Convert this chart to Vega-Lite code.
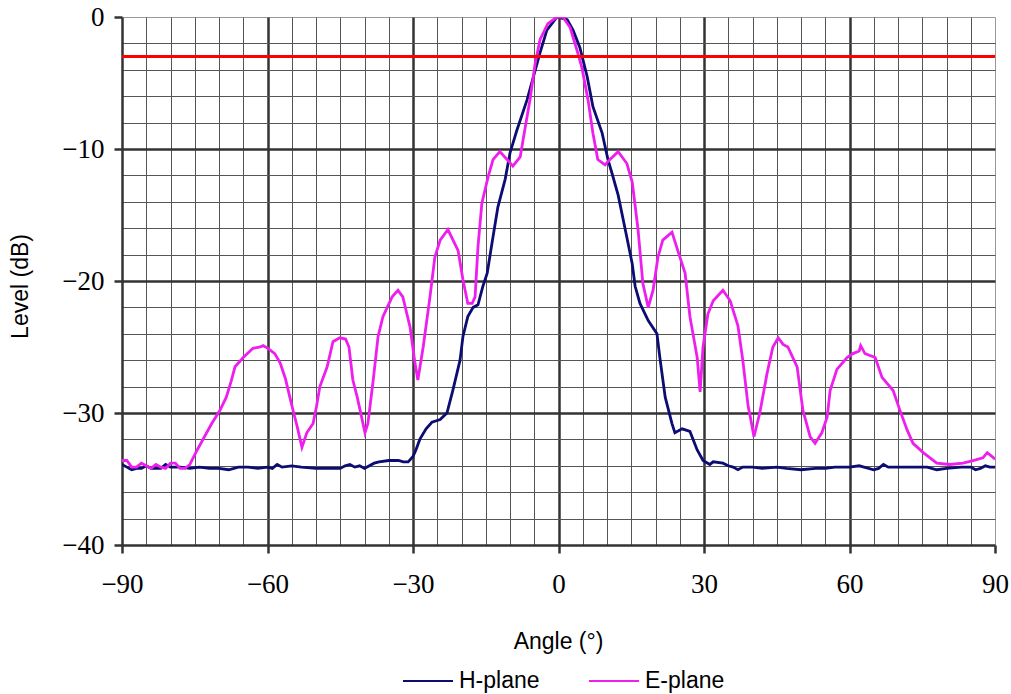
{
  "$schema": "https://vega.github.io/schema/vega-lite/v6.json",
  "width": 873,
  "height": 528,
  "autosize": {"type": "none"},
  "padding": {"left": 122, "top": 17, "right": 16, "bottom": 149},
  "background": "white",
  "config": {
    "view": {"stroke": "#999", "strokeWidth": 1},
    "axis": {
      "domainColor": "#333",
      "domainWidth": 2.5,
      "tickColor": "#333",
      "tickWidth": 2.5,
      "tickSize": 8,
      "labelFont": "Liberation Serif",
      "labelFontSize": 27,
      "labelColor": "#000",
      "titleFont": "Liberation Sans",
      "titleFontSize": 23,
      "titleFontWeight": "normal",
      "titleColor": "#000",
      "labelOverlap": false,
      "labelFlush": false
    },
    "legend": {
      "labelFont": "Liberation Sans",
      "labelFontSize": 23,
      "labelColor": "#000"
    }
  },
  "encoding": {
    "y": {
      "field": "level",
      "type": "quantitative",
      "scale": {"domain": [-40, 0], "nice": false, "zero": false},
      "axis": {
        "title": "Level (dB)",
        "values": [-40, -38, -36, -34, -32, -30, -28, -26, -24, -22, -20, -18, -16, -14, -12, -10, -8, -6, -4, -2, 0],
        "grid": true,
        "gridColor": {"condition": {"test": "datum.value % 10 === 0 && datum.value < 0 && datum.value > -40", "value": "#333"}, "value": "#555"},
        "gridWidth": {"condition": {"test": "datum.value % 10 === 0 && datum.value < 0 && datum.value > -40", "value": 2.5}, "value": 1},
        "gridOpacity": {"condition": {"test": "datum.value === 0 || datum.value === -40", "value": 0}, "value": 1},
        "tickOpacity": {"condition": {"test": "datum.value % 10 === 0", "value": 1}, "value": 0},
        "labelExpr": "datum.value % 10 === 0 ? datum.label : ''",
        "labelPadding": 10,
        "titleX": -102,
        "titleY": 269,
        "titleAngle": -90,
        "titleBaseline": "middle",
        "titleAlign": "center"
      }
    }
  },
  "layer": [
    {
      "data": {
        "values": [
          {"angle": -90, "level": -33.9, "series": "H-plane"},
          {"angle": -89, "level": -34.1, "series": "H-plane"},
          {"angle": -88, "level": -34.3, "series": "H-plane"},
          {"angle": -87, "level": -34.2, "series": "H-plane"},
          {"angle": -86, "level": -34.2, "series": "H-plane"},
          {"angle": -85, "level": -34.0, "series": "H-plane"},
          {"angle": -84, "level": -34.2, "series": "H-plane"},
          {"angle": -82, "level": -34.2, "series": "H-plane"},
          {"angle": -81, "level": -33.9, "series": "H-plane"},
          {"angle": -80, "level": -34.1, "series": "H-plane"},
          {"angle": -78, "level": -34.1, "series": "H-plane"},
          {"angle": -76, "level": -34.2, "series": "H-plane"},
          {"angle": -74, "level": -34.1, "series": "H-plane"},
          {"angle": -72, "level": -34.2, "series": "H-plane"},
          {"angle": -70, "level": -34.2, "series": "H-plane"},
          {"angle": -68, "level": -34.3, "series": "H-plane"},
          {"angle": -66, "level": -34.1, "series": "H-plane"},
          {"angle": -64, "level": -34.1, "series": "H-plane"},
          {"angle": -62, "level": -34.2, "series": "H-plane"},
          {"angle": -60, "level": -34.1, "series": "H-plane"},
          {"angle": -59, "level": -34.2, "series": "H-plane"},
          {"angle": -58, "level": -33.9, "series": "H-plane"},
          {"angle": -57, "level": -34.1, "series": "H-plane"},
          {"angle": -55, "level": -34.0, "series": "H-plane"},
          {"angle": -53, "level": -34.1, "series": "H-plane"},
          {"angle": -50, "level": -34.2, "series": "H-plane"},
          {"angle": -47, "level": -34.2, "series": "H-plane"},
          {"angle": -45, "level": -34.2, "series": "H-plane"},
          {"angle": -44, "level": -34.0, "series": "H-plane"},
          {"angle": -43, "level": -33.9, "series": "H-plane"},
          {"angle": -42, "level": -34.1, "series": "H-plane"},
          {"angle": -41, "level": -34.0, "series": "H-plane"},
          {"angle": -40, "level": -34.2, "series": "H-plane"},
          {"angle": -39, "level": -34.0, "series": "H-plane"},
          {"angle": -38, "level": -33.8, "series": "H-plane"},
          {"angle": -37, "level": -33.7, "series": "H-plane"},
          {"angle": -35, "level": -33.6, "series": "H-plane"},
          {"angle": -33, "level": -33.6, "series": "H-plane"},
          {"angle": -32, "level": -33.7, "series": "H-plane"},
          {"angle": -31, "level": -33.7, "series": "H-plane"},
          {"angle": -30, "level": -33.3, "series": "H-plane"},
          {"angle": -29.4, "level": -32.8, "series": "H-plane"},
          {"angle": -28.6, "level": -32.0, "series": "H-plane"},
          {"angle": -27.3, "level": -31.2, "series": "H-plane"},
          {"angle": -26.1, "level": -30.7, "series": "H-plane"},
          {"angle": -24.4, "level": -30.5, "series": "H-plane"},
          {"angle": -23.0, "level": -30.0, "series": "H-plane"},
          {"angle": -21.8, "level": -28.3, "series": "H-plane"},
          {"angle": -20.3, "level": -26.0, "series": "H-plane"},
          {"angle": -19.7, "level": -24.2, "series": "H-plane"},
          {"angle": -18.7, "level": -22.7, "series": "H-plane"},
          {"angle": -17.6, "level": -22.0, "series": "H-plane"},
          {"angle": -16.6, "level": -21.8, "series": "H-plane"},
          {"angle": -15.6, "level": -20.4, "series": "H-plane"},
          {"angle": -14.7, "level": -19.4, "series": "H-plane"},
          {"angle": -13.7, "level": -17.1, "series": "H-plane"},
          {"angle": -12.5, "level": -14.4, "series": "H-plane"},
          {"angle": -11.0, "level": -12.3, "series": "H-plane"},
          {"angle": -10.0, "level": -10.3, "series": "H-plane"},
          {"angle": -8.6, "level": -8.6, "series": "H-plane"},
          {"angle": -6.5, "level": -6.3, "series": "H-plane"},
          {"angle": -3.8, "level": -2.7, "series": "H-plane"},
          {"angle": -2.4, "level": -1.0, "series": "H-plane"},
          {"angle": -0.3, "level": 0, "series": "H-plane"},
          {"angle": 1.8, "level": -0.2, "series": "H-plane"},
          {"angle": 3.0, "level": -1.0, "series": "H-plane"},
          {"angle": 4.4, "level": -2.3, "series": "H-plane"},
          {"angle": 5.9, "level": -4.5, "series": "H-plane"},
          {"angle": 7.1, "level": -6.8, "series": "H-plane"},
          {"angle": 9.0, "level": -8.8, "series": "H-plane"},
          {"angle": 10.2, "level": -10.8, "series": "H-plane"},
          {"angle": 11.0, "level": -11.8, "series": "H-plane"},
          {"angle": 12.3, "level": -13.5, "series": "H-plane"},
          {"angle": 14.1, "level": -16.7, "series": "H-plane"},
          {"angle": 15.2, "level": -18.7, "series": "H-plane"},
          {"angle": 15.8, "level": -20.4, "series": "H-plane"},
          {"angle": 16.8, "level": -21.7, "series": "H-plane"},
          {"angle": 18.5, "level": -23.0, "series": "H-plane"},
          {"angle": 20.3, "level": -24.0, "series": "H-plane"},
          {"angle": 20.9, "level": -25.8, "series": "H-plane"},
          {"angle": 22.0, "level": -28.8, "series": "H-plane"},
          {"angle": 23.4, "level": -30.8, "series": "H-plane"},
          {"angle": 24.0, "level": -31.5, "series": "H-plane"},
          {"angle": 25.5, "level": -31.2, "series": "H-plane"},
          {"angle": 27.1, "level": -31.4, "series": "H-plane"},
          {"angle": 28.6, "level": -32.8, "series": "H-plane"},
          {"angle": 29.8, "level": -33.6, "series": "H-plane"},
          {"angle": 31.2, "level": -33.9, "series": "H-plane"},
          {"angle": 31.9, "level": -33.7, "series": "H-plane"},
          {"angle": 33.9, "level": -33.8, "series": "H-plane"},
          {"angle": 35, "level": -34.0, "series": "H-plane"},
          {"angle": 36, "level": -34.1, "series": "H-plane"},
          {"angle": 37, "level": -34.3, "series": "H-plane"},
          {"angle": 38, "level": -34.1, "series": "H-plane"},
          {"angle": 40, "level": -34.1, "series": "H-plane"},
          {"angle": 42, "level": -34.2, "series": "H-plane"},
          {"angle": 45, "level": -34.1, "series": "H-plane"},
          {"angle": 47, "level": -34.2, "series": "H-plane"},
          {"angle": 50, "level": -34.3, "series": "H-plane"},
          {"angle": 53, "level": -34.2, "series": "H-plane"},
          {"angle": 55, "level": -34.2, "series": "H-plane"},
          {"angle": 57, "level": -34.1, "series": "H-plane"},
          {"angle": 60, "level": -34.1, "series": "H-plane"},
          {"angle": 62, "level": -34.0, "series": "H-plane"},
          {"angle": 63, "level": -34.1, "series": "H-plane"},
          {"angle": 65, "level": -34.3, "series": "H-plane"},
          {"angle": 66, "level": -34.2, "series": "H-plane"},
          {"angle": 67, "level": -33.9, "series": "H-plane"},
          {"angle": 68, "level": -34.1, "series": "H-plane"},
          {"angle": 70, "level": -34.1, "series": "H-plane"},
          {"angle": 73, "level": -34.1, "series": "H-plane"},
          {"angle": 76, "level": -34.1, "series": "H-plane"},
          {"angle": 78, "level": -34.3, "series": "H-plane"},
          {"angle": 80, "level": -34.2, "series": "H-plane"},
          {"angle": 83, "level": -34.1, "series": "H-plane"},
          {"angle": 85, "level": -34.1, "series": "H-plane"},
          {"angle": 86, "level": -34.3, "series": "H-plane"},
          {"angle": 87, "level": -34.2, "series": "H-plane"},
          {"angle": 88, "level": -34.0, "series": "H-plane"},
          {"angle": 89, "level": -34.1, "series": "H-plane"},
          {"angle": 90, "level": -34.1, "series": "H-plane"},
          {"angle": -90, "level": -33.6, "series": "E-plane"},
          {"angle": -89, "level": -33.6, "series": "E-plane"},
          {"angle": -88, "level": -34.1, "series": "E-plane"},
          {"angle": -87, "level": -34.1, "series": "E-plane"},
          {"angle": -86, "level": -33.8, "series": "E-plane"},
          {"angle": -85, "level": -34.0, "series": "E-plane"},
          {"angle": -84, "level": -34.2, "series": "E-plane"},
          {"angle": -83, "level": -33.9, "series": "E-plane"},
          {"angle": -82, "level": -34.1, "series": "E-plane"},
          {"angle": -81, "level": -34.2, "series": "E-plane"},
          {"angle": -80, "level": -33.8, "series": "E-plane"},
          {"angle": -79, "level": -33.8, "series": "E-plane"},
          {"angle": -78, "level": -34.2, "series": "E-plane"},
          {"angle": -77, "level": -34.2, "series": "E-plane"},
          {"angle": -76, "level": -33.9, "series": "E-plane"},
          {"angle": -74.5, "level": -32.8, "series": "E-plane"},
          {"angle": -73, "level": -31.8, "series": "E-plane"},
          {"angle": -71.5, "level": -30.8, "series": "E-plane"},
          {"angle": -69.8, "level": -29.8, "series": "E-plane"},
          {"angle": -68.5, "level": -28.8, "series": "E-plane"},
          {"angle": -67.5, "level": -27.6, "series": "E-plane"},
          {"angle": -66.7, "level": -26.5, "series": "E-plane"},
          {"angle": -65, "level": -25.8, "series": "E-plane"},
          {"angle": -63, "level": -25.1, "series": "E-plane"},
          {"angle": -61.5, "level": -25.0, "series": "E-plane"},
          {"angle": -60.9, "level": -24.9, "series": "E-plane"},
          {"angle": -59.9, "level": -25.1, "series": "E-plane"},
          {"angle": -58.5, "level": -25.5, "series": "E-plane"},
          {"angle": -57.4, "level": -26.2, "series": "E-plane"},
          {"angle": -56.3, "level": -27.4, "series": "E-plane"},
          {"angle": -55.4, "level": -28.8, "series": "E-plane"},
          {"angle": -54.6, "level": -30.0, "series": "E-plane"},
          {"angle": -53.9, "level": -31.0, "series": "E-plane"},
          {"angle": -52.9, "level": -32.6, "series": "E-plane"},
          {"angle": -51.9, "level": -31.5, "series": "E-plane"},
          {"angle": -50.6, "level": -30.8, "series": "E-plane"},
          {"angle": -49.9, "level": -29.5, "series": "E-plane"},
          {"angle": -49.2, "level": -28.0, "series": "E-plane"},
          {"angle": -47.7, "level": -26.5, "series": "E-plane"},
          {"angle": -46.5, "level": -24.6, "series": "E-plane"},
          {"angle": -45.1, "level": -24.3, "series": "E-plane"},
          {"angle": -43.9, "level": -24.4, "series": "E-plane"},
          {"angle": -43.2, "level": -25.0, "series": "E-plane"},
          {"angle": -42.4, "level": -27.5, "series": "E-plane"},
          {"angle": -41.5, "level": -28.8, "series": "E-plane"},
          {"angle": -40.9, "level": -29.8, "series": "E-plane"},
          {"angle": -39.9, "level": -31.5, "series": "E-plane"},
          {"angle": -39.3, "level": -30.8, "series": "E-plane"},
          {"angle": -38.2, "level": -27.5, "series": "E-plane"},
          {"angle": -37.2, "level": -24.2, "series": "E-plane"},
          {"angle": -36.2, "level": -22.7, "series": "E-plane"},
          {"angle": -34.3, "level": -21.2, "series": "E-plane"},
          {"angle": -33.1, "level": -20.7, "series": "E-plane"},
          {"angle": -32.1, "level": -21.2, "series": "E-plane"},
          {"angle": -30.6, "level": -23.5, "series": "E-plane"},
          {"angle": -29.6, "level": -26.2, "series": "E-plane"},
          {"angle": -29.0, "level": -27.5, "series": "E-plane"},
          {"angle": -27.9, "level": -25.0, "series": "E-plane"},
          {"angle": -26.5, "level": -21.2, "series": "E-plane"},
          {"angle": -25.5, "level": -18.2, "series": "E-plane"},
          {"angle": -24.4, "level": -16.9, "series": "E-plane"},
          {"angle": -22.8, "level": -16.1, "series": "E-plane"},
          {"angle": -20.7, "level": -17.7, "series": "E-plane"},
          {"angle": -19.7, "level": -19.9, "series": "E-plane"},
          {"angle": -18.7, "level": -21.7, "series": "E-plane"},
          {"angle": -17.8, "level": -21.7, "series": "E-plane"},
          {"angle": -17.2, "level": -21.2, "series": "E-plane"},
          {"angle": -16.6, "level": -17.4, "series": "E-plane"},
          {"angle": -15.8, "level": -14.1, "series": "E-plane"},
          {"angle": -14.5, "level": -12.1, "series": "E-plane"},
          {"angle": -13.5, "level": -10.8, "series": "E-plane"},
          {"angle": -12.1, "level": -10.2, "series": "E-plane"},
          {"angle": -10.6, "level": -10.8, "series": "E-plane"},
          {"angle": -9.4, "level": -11.3, "series": "E-plane"},
          {"angle": -7.9, "level": -10.6, "series": "E-plane"},
          {"angle": -7.3, "level": -9.3, "series": "E-plane"},
          {"angle": -5.9, "level": -6.3, "series": "E-plane"},
          {"angle": -4.8, "level": -3.5, "series": "E-plane"},
          {"angle": -3.8, "level": -1.7, "series": "E-plane"},
          {"angle": -2.2, "level": -0.5, "series": "E-plane"},
          {"angle": -0.3, "level": 0, "series": "E-plane"},
          {"angle": 0.9, "level": 0, "series": "E-plane"},
          {"angle": 2.4, "level": -0.8, "series": "E-plane"},
          {"angle": 3.8, "level": -2.5, "series": "E-plane"},
          {"angle": 4.8, "level": -3.8, "series": "E-plane"},
          {"angle": 6.1, "level": -6.3, "series": "E-plane"},
          {"angle": 7.1, "level": -8.8, "series": "E-plane"},
          {"angle": 8.1, "level": -10.8, "series": "E-plane"},
          {"angle": 9.6, "level": -11.2, "series": "E-plane"},
          {"angle": 10.6, "level": -10.8, "series": "E-plane"},
          {"angle": 12.3, "level": -10.2, "series": "E-plane"},
          {"angle": 14.1, "level": -11.1, "series": "E-plane"},
          {"angle": 15.2, "level": -12.5, "series": "E-plane"},
          {"angle": 16.4, "level": -16.1, "series": "E-plane"},
          {"angle": 17.4, "level": -20.2, "series": "E-plane"},
          {"angle": 18.5, "level": -22.0, "series": "E-plane"},
          {"angle": 19.5, "level": -20.7, "series": "E-plane"},
          {"angle": 20.5, "level": -18.2, "series": "E-plane"},
          {"angle": 21.5, "level": -16.9, "series": "E-plane"},
          {"angle": 23.4, "level": -16.3, "series": "E-plane"},
          {"angle": 24.6, "level": -17.7, "series": "E-plane"},
          {"angle": 26.1, "level": -19.4, "series": "E-plane"},
          {"angle": 27.1, "level": -22.7, "series": "E-plane"},
          {"angle": 28.6, "level": -25.8, "series": "E-plane"},
          {"angle": 29.2, "level": -28.4, "series": "E-plane"},
          {"angle": 29.8, "level": -25.0, "series": "E-plane"},
          {"angle": 30.8, "level": -22.5, "series": "E-plane"},
          {"angle": 31.9, "level": -21.5, "series": "E-plane"},
          {"angle": 33.9, "level": -20.7, "series": "E-plane"},
          {"angle": 35.4, "level": -21.5, "series": "E-plane"},
          {"angle": 37.0, "level": -23.4, "series": "E-plane"},
          {"angle": 38.0, "level": -26.0, "series": "E-plane"},
          {"angle": 39.1, "level": -29.5, "series": "E-plane"},
          {"angle": 39.5, "level": -30.2, "series": "E-plane"},
          {"angle": 40.3, "level": -31.8, "series": "E-plane"},
          {"angle": 41.5, "level": -30.0, "series": "E-plane"},
          {"angle": 43.0, "level": -27.0, "series": "E-plane"},
          {"angle": 44.2, "level": -25.0, "series": "E-plane"},
          {"angle": 45.3, "level": -24.3, "series": "E-plane"},
          {"angle": 46.3, "level": -24.8, "series": "E-plane"},
          {"angle": 47.3, "level": -25.0, "series": "E-plane"},
          {"angle": 49.2, "level": -26.5, "series": "E-plane"},
          {"angle": 50.4, "level": -29.8, "series": "E-plane"},
          {"angle": 51.9, "level": -31.8, "series": "E-plane"},
          {"angle": 52.9, "level": -32.3, "series": "E-plane"},
          {"angle": 54.3, "level": -31.5, "series": "E-plane"},
          {"angle": 55.4, "level": -30.3, "series": "E-plane"},
          {"angle": 56.0, "level": -28.3, "series": "E-plane"},
          {"angle": 57.4, "level": -26.7, "series": "E-plane"},
          {"angle": 59.5, "level": -25.8, "series": "E-plane"},
          {"angle": 60.7, "level": -25.5, "series": "E-plane"},
          {"angle": 62.0, "level": -25.3, "series": "E-plane"},
          {"angle": 62.3, "level": -24.9, "series": "E-plane"},
          {"angle": 63.2, "level": -25.5, "series": "E-plane"},
          {"angle": 65.3, "level": -25.8, "series": "E-plane"},
          {"angle": 66.7, "level": -27.3, "series": "E-plane"},
          {"angle": 69.0, "level": -28.3, "series": "E-plane"},
          {"angle": 70.4, "level": -29.8, "series": "E-plane"},
          {"angle": 71.9, "level": -31.3, "series": "E-plane"},
          {"angle": 73.1, "level": -32.3, "series": "E-plane"},
          {"angle": 75.2, "level": -33.0, "series": "E-plane"},
          {"angle": 78.0, "level": -33.8, "series": "E-plane"},
          {"angle": 80.7, "level": -33.9, "series": "E-plane"},
          {"angle": 83.4, "level": -33.8, "series": "E-plane"},
          {"angle": 85.5, "level": -33.6, "series": "E-plane"},
          {"angle": 87.5, "level": -33.4, "series": "E-plane"},
          {"angle": 88.4, "level": -33.0, "series": "E-plane"},
          {"angle": 89.4, "level": -33.3, "series": "E-plane"},
          {"angle": 90, "level": -33.5, "series": "E-plane"}
        ]
      },
      "mark": {"type": "line", "strokeWidth": 2.8, "clip": true},
      "encoding": {
        "x": {
          "field": "angle",
          "type": "quantitative",
          "scale": {"domain": [-90, 90], "nice": false, "zero": false},
          "axis": {
            "title": "Angle (°)",
            "values": [-90, -85, -80, -75, -70, -65, -60, -55, -50, -45, -40, -35, -30, -25, -20, -15, -10, -5, 0, 5, 10, 15, 20, 25, 30, 35, 40, 45, 50, 55, 60, 65, 70, 75, 80, 85, 90],
            "grid": true,
            "gridColor": {"condition": {"test": "datum.value % 30 === 0 && abs(datum.value) < 90", "value": "#333"}, "value": "#555"},
            "gridWidth": {"condition": {"test": "datum.value % 30 === 0 && abs(datum.value) < 90", "value": 2.5}, "value": 1},
            "gridOpacity": {"condition": {"test": "abs(datum.value) === 90", "value": 0}, "value": 1},
            "tickOpacity": {"condition": {"test": "datum.value % 30 === 0", "value": 1}, "value": 0},
            "labelExpr": "datum.value % 30 === 0 ? datum.label : ''",
            "labelPadding": 18,
            "titleX": 436,
            "titleY": 96,
            "titleBaseline": "middle",
            "titleAlign": "center"
          }
        },
        "color": {
          "field": "series",
          "type": "nominal",
          "scale": {"domain": ["H-plane", "E-plane"], "range": ["#0c0c72", "#ee1fee"]},
          "legend": {
            "title": null,
            "orient": "none",
            "direction": "horizontal",
            "legendX": 280,
            "legendY": 638,
            "symbolType": "stroke",
            "symbolSize": 2500,
            "symbolStrokeWidth": 2,
            "labelOffset": 5,
            "columnPadding": 45
          }
        }
      }
    },
    {
      "data": {"values": [{"level": -3}]},
      "mark": {"type": "rule", "color": "#ff0000", "strokeWidth": 3}
    }
  ]
}
